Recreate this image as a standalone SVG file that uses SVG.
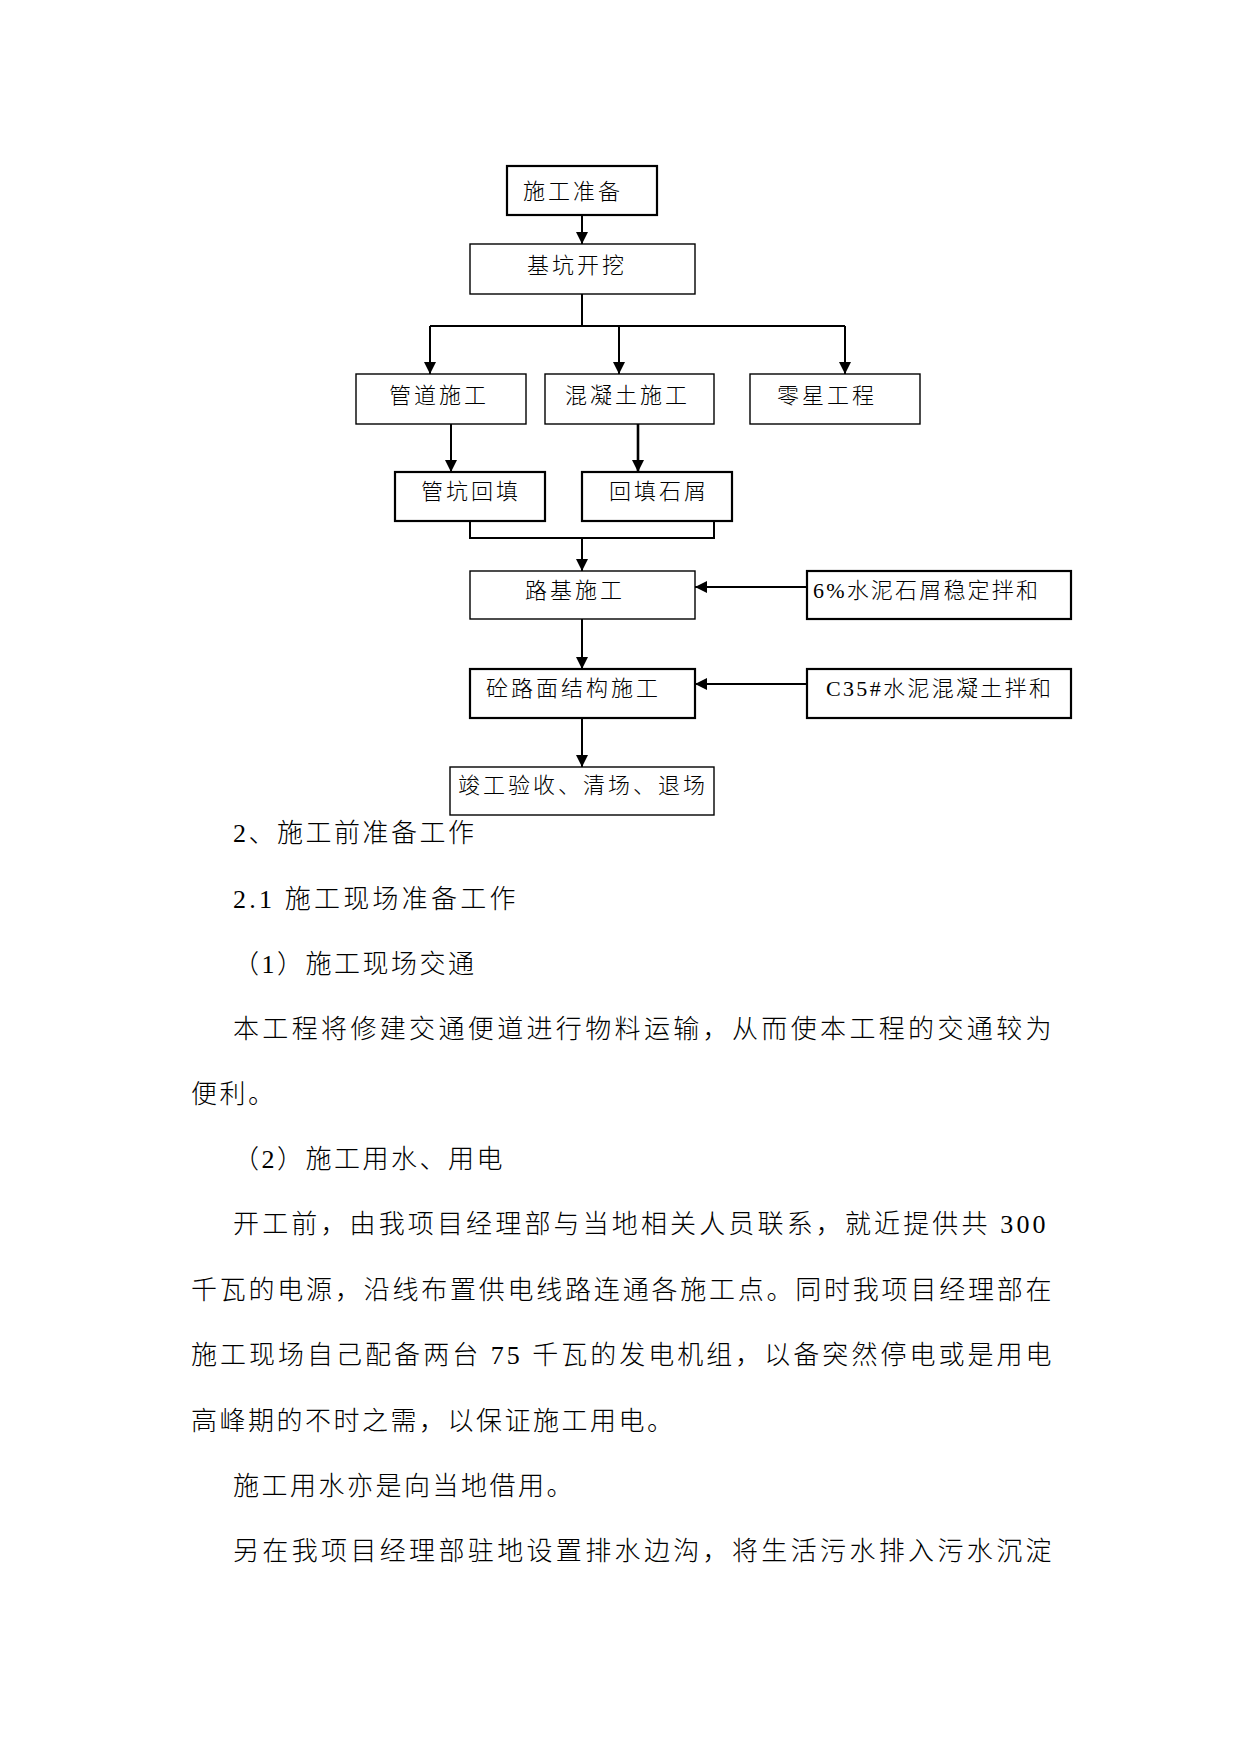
<svg xmlns="http://www.w3.org/2000/svg" width="1241" height="1754" viewBox="0 0 1241 1754">
<style>
  .bg{fill:#fff}
  .box{fill:#fff;stroke:#000;stroke-width:1.4}
  .boxb{fill:#fff;stroke:#000;stroke-width:2.2}
  .lbl{font-family:"Liberation Serif","Noto Sans CJK SC",serif;font-size:22px;font-weight:300;letter-spacing:3px;fill:#000}
  .con{fill:none;stroke:#000;stroke-width:2}
  .body{font-family:"Liberation Serif","Noto Sans CJK SC",serif;font-size:26px;font-weight:300;letter-spacing:2.5px;fill:#000}
</style>
<defs>
  <marker id="ah" markerUnits="userSpaceOnUse" markerWidth="13" markerHeight="13" refX="12" refY="6" orient="auto">
    <path d="M0,0 L12,6 L0,12 z" fill="#000"/>
  </marker>
</defs>
<rect class="bg" x="0" y="0" width="1241" height="1754"/>

<g id="connectors">
  <line class="con" x1="582" y1="215" x2="582" y2="244" marker-end="url(#ah)"/>
  <polyline class="con" points="582,294 582,326"/>
  <polyline class="con" points="430,326 845,326"/>
  <line class="con" x1="430" y1="326" x2="430" y2="374" marker-end="url(#ah)"/>
  <line class="con" x1="619" y1="326" x2="619" y2="374" marker-end="url(#ah)"/>
  <line class="con" x1="845" y1="326" x2="845" y2="374" marker-end="url(#ah)"/>
  <line class="con" x1="451" y1="424" x2="451" y2="472" marker-end="url(#ah)"/>
  <line class="con" x1="638" y1="424" x2="638" y2="472" marker-end="url(#ah)" style="stroke-width:2.6"/>
  <polyline class="con" points="470,521 470,538 714,538 714,521"/>
  <line class="con" x1="582" y1="538" x2="582" y2="571" marker-end="url(#ah)"/>
  <line class="con" x1="807" y1="587" x2="695" y2="587" marker-end="url(#ah)"/>
  <line class="con" x1="582" y1="619" x2="582" y2="669" marker-end="url(#ah)"/>
  <line class="con" x1="807" y1="684" x2="695" y2="684" marker-end="url(#ah)"/>
  <line class="con" x1="582" y1="718" x2="582" y2="767" marker-end="url(#ah)"/>
</g>

<g id="n-prep">
  <rect class="boxb" x="507" y="166" width="150" height="49"/>
  <text class="lbl" x="523" y="199">施工准备</text>
</g>
<g id="n-excav">
  <rect class="box" x="470" y="244" width="225" height="50"/>
  <text class="lbl" x="527" y="273">基坑开挖</text>
</g>
<g id="n-pipe">
  <rect class="box" x="356" y="374" width="170" height="50"/>
  <text class="lbl" x="389" y="403">管道施工</text>
</g>
<g id="n-concrete">
  <rect class="box" x="545" y="374" width="169" height="50"/>
  <text class="lbl" x="565" y="403">混凝土施工</text>
</g>
<g id="n-misc">
  <rect class="box" x="750" y="374" width="170" height="50"/>
  <text class="lbl" x="777" y="403">零星工程</text>
</g>
<g id="n-backfill">
  <rect class="boxb" x="395" y="472" width="150" height="49"/>
  <text class="lbl" x="421" y="499">管坑回填</text>
</g>
<g id="n-chips">
  <rect class="boxb" x="582" y="472" width="150" height="49"/>
  <text class="lbl" x="609" y="499">回填石屑</text>
</g>
<g id="n-subgrade">
  <rect class="box" x="470" y="571" width="225" height="48"/>
  <text class="lbl" x="525" y="598">路基施工</text>
</g>
<g id="n-cement6">
  <rect class="boxb" x="807" y="571" width="264" height="48"/>
  <text class="lbl" x="813" y="598" textLength="228" lengthAdjust="spacing">6%水泥石屑稳定拌和</text>
</g>
<g id="n-pavement">
  <rect class="boxb" x="470" y="669" width="225" height="49"/>
  <text class="lbl" x="486" y="696">砼路面结构施工</text>
</g>
<g id="n-c35">
  <rect class="boxb" x="807" y="669" width="264" height="49"/>
  <text class="lbl" x="826" y="696" textLength="228" lengthAdjust="spacing">C35#水泥混凝土拌和</text>
</g>
<g id="n-finish">
  <rect class="box" x="450" y="767" width="264" height="48"/>
  <text class="lbl" x="458" y="793">竣工验收、清场、退场</text>
</g>

<g id="body-text">
  <text class="body" x="233" y="842">2、施工前准备工作</text>
  <text class="body" x="233" y="908" textLength="285" lengthAdjust="spacing">2.1 施工现场准备工作</text>
  <text class="body" x="233" y="973">（1）施工现场交通</text>
  <text class="body" x="233" y="1038" textLength="821" lengthAdjust="spacing">本工程将修建交通便道进行物料运输，从而使本工程的交通较为</text>
  <text class="body" x="191" y="1103">便利。</text>
  <text class="body" x="233" y="1168">（2）施工用水、用电</text>
  <text class="body" x="233" y="1233" textLength="815" lengthAdjust="spacing">开工前，由我项目经理部与当地相关人员联系，就近提供共 300</text>
  <text class="body" x="191" y="1299" textLength="863" lengthAdjust="spacing">千瓦的电源，沿线布置供电线路连通各施工点。同时我项目经理部在</text>
  <text class="body" x="191" y="1364" textLength="863" lengthAdjust="spacing">施工现场自己配备两台 75 千瓦的发电机组，以备突然停电或是用电</text>
  <text class="body" x="191" y="1430">高峰期的不时之需，以保证施工用电。</text>
  <text class="body" x="233" y="1495">施工用水亦是向当地借用。</text>
  <text class="body" x="233" y="1560" textLength="821" lengthAdjust="spacing">另在我项目经理部驻地设置排水边沟，将生活污水排入污水沉淀</text>
</g>
</svg>
